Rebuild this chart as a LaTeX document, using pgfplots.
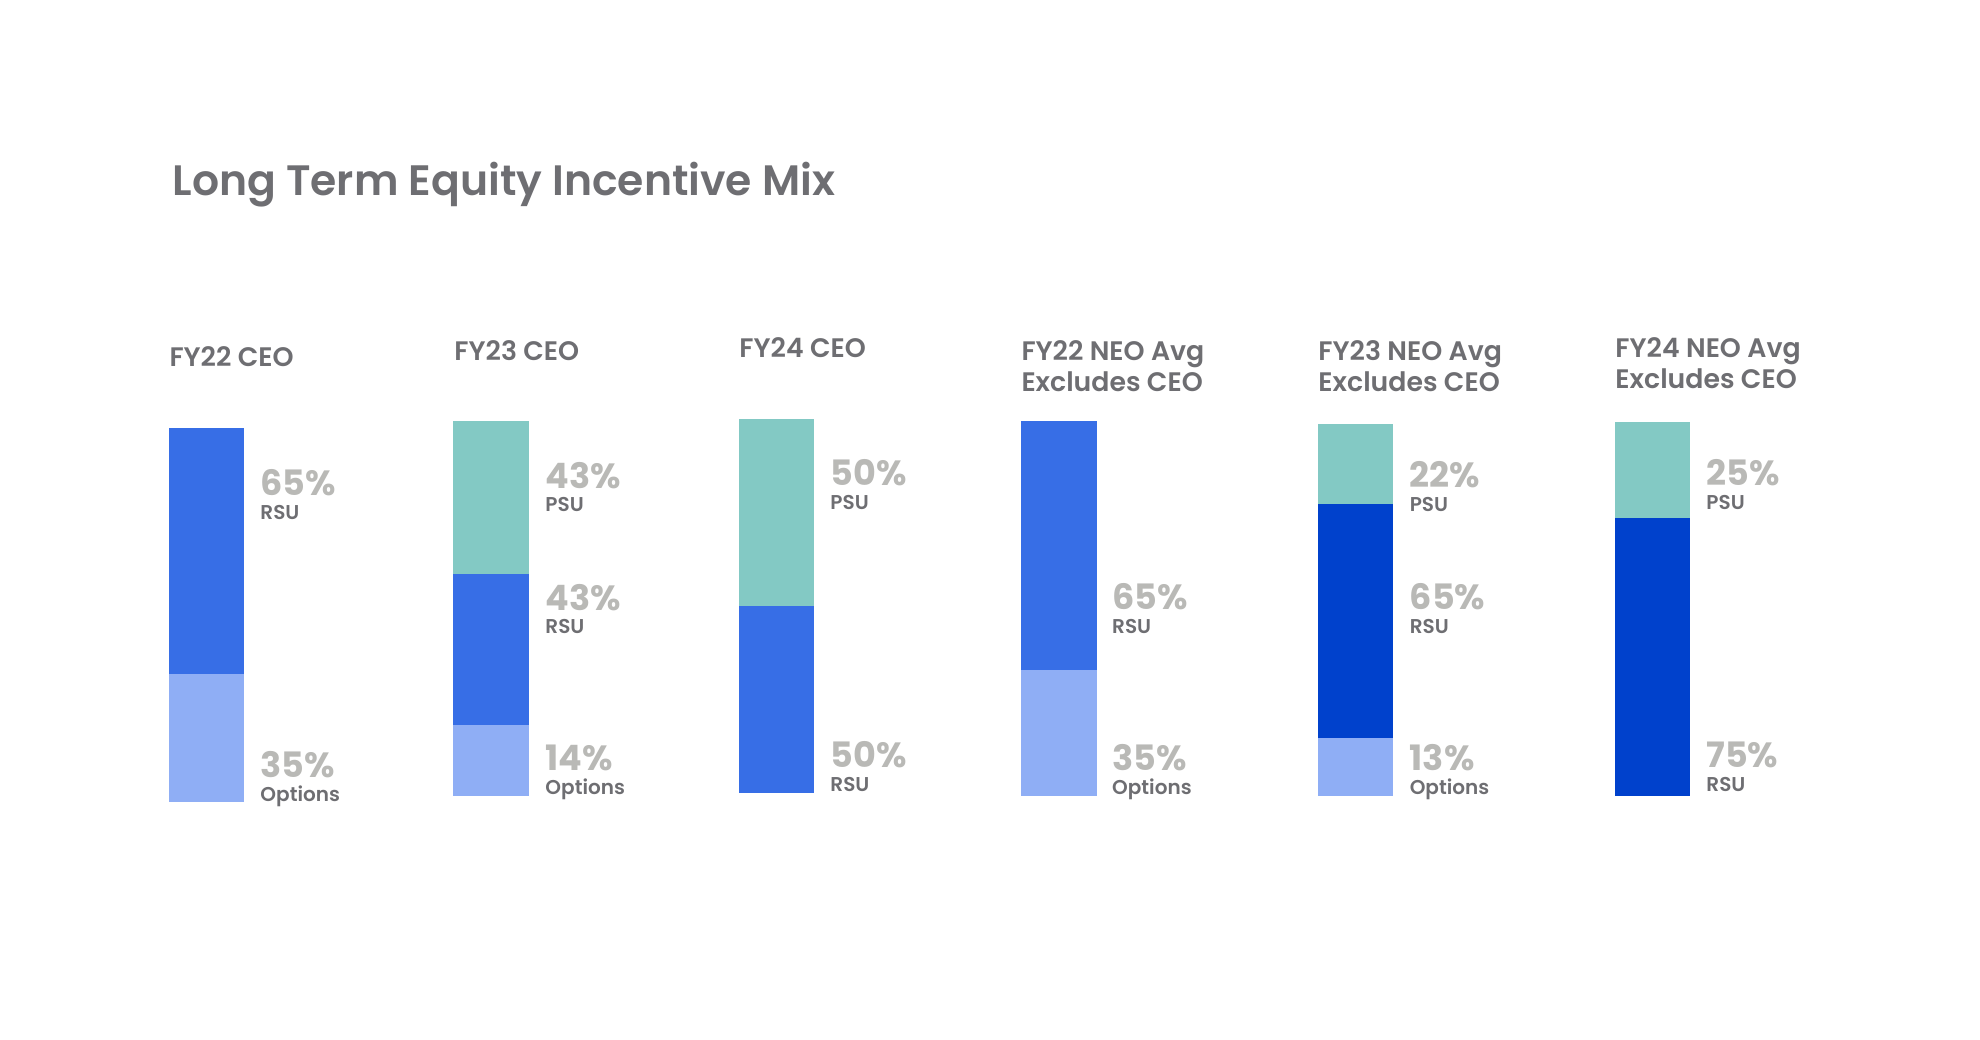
\documentclass[border=0pt]{standalone}
\usepackage{fontspec}
\setmainfont{Poppins}
\IfFontExistsTF{Poppins SemiBold}{\newfontfamily\semib{Poppins SemiBold}}{\newcommand\semib{\bfseries}}
\usepackage{pgfplots}
\pgfplotsset{compat=1.18}
\definecolor{rsu}{RGB}{55,110,230}
\definecolor{rsudark}{RGB}{0,65,204}
\definecolor{opt}{RGB}{143,174,245}
\definecolor{psu}{RGB}{131,201,196}
\definecolor{txt}{RGB}{110,110,114}
\definecolor{pct}{RGB}{185,185,182}
\pgfplotsset{
  barax/.style n args={2}{hide axis, scale only axis, width=#1, height=#2,
    xmin=0, xmax=1, ymin=0, ymax=100, enlargelimits=false, clip=false,
    ybar stacked, bar width=#1},
  seg/.style={fill=#1, draw=none}
}
\newcommand{\ttl}[1]{{\fontsize{17}{20}\selectfont\semib #1}}
\newcommand{\hd}[1]{{\fontsize{10.7}{12}\selectfont\semib #1}}
\newcommand{\pc}[1]{{\fontsize{14}{16}\selectfont\bfseries #1}}
\newcommand{\lb}[1]{{\fontsize{8}{9}\selectfont\semib #1}}
\begin{document}
\begin{tikzpicture}
\path[use as bounding box] (0pt,0pt) rectangle (792pt,-415.6pt);

% FY22 CEO
\begin{axis}[barax={30.12pt}{149.84pt}, at={(67.6pt,-320.92pt)}]
\addplot[seg=opt] coordinates {(0.5,34.3)};
\addplot[seg=rsu] coordinates {(0.5,65.7)};
\end{axis}
% FY23 CEO
\begin{axis}[barax={30.28pt}{149.88pt}, at={(181.32pt,-318.28pt)}]
\addplot[seg=opt] coordinates {(0.5,18.9)};
\addplot[seg=rsu] coordinates {(0.5,40.3)};
\addplot[seg=psu] coordinates {(0.5,40.8)};
\end{axis}
% FY24 CEO
\begin{axis}[barax={30pt}{149.84pt}, at={(295.6pt,-317.32pt)}]
\addplot[seg=rsu] coordinates {(0.5,50)};
\addplot[seg=psu] coordinates {(0.5,50)};
\end{axis}
% FY22 NEO
\begin{axis}[barax={30.28pt}{150pt}, at={(408.4pt,-318.4pt)}]
\addplot[seg=opt] coordinates {(0.5,33.6)};
\addplot[seg=rsu] coordinates {(0.5,66.4)};
\end{axis}
% FY23 NEO
\begin{axis}[barax={30.12pt}{148.68pt}, at={(527.2pt,-318.4pt)}]
\addplot[seg=opt] coordinates {(0.5,15.5)};
\addplot[seg=rsudark] coordinates {(0.5,63.0)};
\addplot[seg=psu] coordinates {(0.5,21.5)};
\end{axis}
% FY24 NEO
\begin{axis}[barax={30pt}{149.72pt}, at={(646pt,-318.4pt)}]
\addplot[seg=rsudark] coordinates {(0.5,74.4)};
\addplot[seg=psu] coordinates {(0.5,25.6)};
\end{axis}

\begin{scope}[x=0.4pt, y=-0.4pt, every node/.style={anchor=base west, inner sep=0pt, text=txt}]
\node at (172,195) {\ttl{Long Term Equity Incentive Mix}};

\node at (169,366.7) {\hd{FY22 CEO}};
\node at (454,360.7) {\hd{FY23 CEO}};
\node at (739,357.3) {\hd{FY24 CEO}};
\node at (1021,360.7) {\hd{FY22 NEO Avg}};
\node at (1021,391) {\hd{Excludes CEO}};
\node at (1318,360) {\hd{FY23 NEO Avg}};
\node at (1318,391) {\hd{Excludes CEO}};
\node at (1615,357.3) {\hd{FY24 NEO Avg}};
\node at (1615,388.3) {\hd{Excludes CEO}};

% bar 1
\node[text=pct] at (260,495) {\pc{65\%}};
\node at (260,519) {\lb{RSU}};
\node[text=pct] at (260,777.3) {\pc{35\%}};
\node at (260,801.7) {\lb{Options}};
% bar 2
\node[text=pct] at (545,488) {\pc{43\%}};
\node at (545,511.7) {\lb{PSU}};
\node[text=pct] at (545,610) {\pc{43\%}};
\node at (545,633) {\lb{RSU}};
\node[text=pct] at (545,770.7) {\pc{14\%}};
\node at (545,794) {\lb{Options}};
% bar 3
\node[text=pct] at (830,485.7) {\pc{50\%}};
\node at (830,509) {\lb{PSU}};
\node[text=pct] at (830,767.3) {\pc{50\%}};
\node at (830,791.7) {\lb{RSU}};
% bar 4
\node[text=pct] at (1111.7,609.3) {\pc{65\%}};
\node at (1111.7,633.3) {\lb{RSU}};
\node[text=pct] at (1111.7,770.7) {\pc{35\%}};
\node at (1111.7,794) {\lb{Options}};
% bar 5
\node[text=pct] at (1409.3,487.7) {\pc{22\%}};
\node at (1409.3,511.7) {\lb{PSU}};
\node[text=pct] at (1409.3,609.3) {\pc{65\%}};
\node at (1409.3,633.3) {\lb{RSU}};
\node[text=pct] at (1409.3,770.7) {\pc{13\%}};
\node at (1409.3,794) {\lb{Options}};
% bar 6
\node[text=pct] at (1706,485.7) {\pc{25\%}};
\node at (1706,509) {\lb{PSU}};
\node[text=pct] at (1706,767.3) {\pc{75\%}};
\node at (1706,791.7) {\lb{RSU}};
\end{scope}
\end{tikzpicture}
\end{document}
